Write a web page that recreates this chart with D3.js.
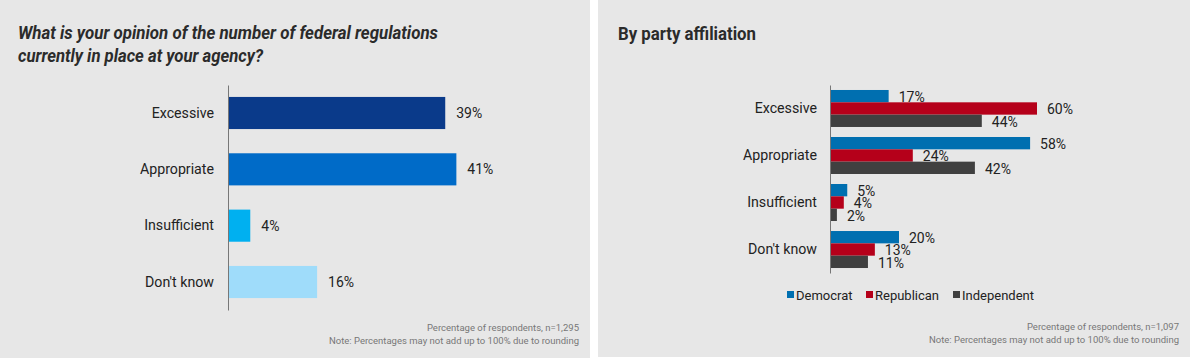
<!DOCTYPE html>
<html>
<head>
<meta charset="utf-8">
<script src="https://cdn.jsdelivr.net/npm/d3@7"></script>
<style>
  html, body { margin: 0; padding: 0; background: #ffffff; }
  svg { display: block; font-family: Roboto, "Noto Sans", sans-serif; }
</style>
</head>
<body>
<svg id="chart" width="1190" height="359"></svg>
<script>
// ---- Data ----
const categories = ["Excessive", "Appropriate", "Insufficient", "Don't know"];
const overallValues = [39, 41, 4, 16];
const overallColors = ["#0a3a8a", "#006bc8", "#00b0f0", "#9fdcfa"];

const parties = ["Democrat", "Republican", "Independent"];
const democratValues = [17, 58, 5, 20];
const republicanValues = [60, 24, 4, 13];
const independentValues = [44, 42, 2, 11];
const partyColors = ["#006fb0", "#b5001a", "#404040"];

const leftTitle = ["What is your opinion of the number of federal regulations", "currently in place at your agency?"];
const rightTitle = "By party affiliation";
const leftNotes = ["Percentage of respondents, n=1,295", "Note: Percentages may not add up to 100% due to rounding"];
const rightNotes = ["Percentage of respondents, n=1,097", "Note: Percentages may not add up to 100% due to rounding"];

const svg = d3.select("#chart");
const bg = "#e7e7e7";
const textColor = "#222222";

// Panels
svg.append("rect").attr("x", 0).attr("y", 0).attr("width", 590).attr("height", 358).attr("fill", bg);
svg.append("rect").attr("x", 598).attr("y", 0).attr("width", 592).attr("height", 357).attr("fill", bg);

// ---- Left panel ----
const L = svg.append("g");
L.append("text").attr("x", 18).attr("y", 39)
  .attr("font-size", 18.5).attr("font-weight", 700).attr("font-style", "italic")
  .attr("fill", "#2b2b2b").attr("textLength", 420).attr("lengthAdjust", "spacingAndGlyphs")
  .text(leftTitle[0]);
L.append("text").attr("x", 18).attr("y", 62)
  .attr("font-size", 18.5).attr("font-weight", 700).attr("font-style", "italic")
  .attr("fill", "#2b2b2b").attr("textLength", 245).attr("lengthAdjust", "spacingAndGlyphs")
  .text(leftTitle[1]);

const yL = d3.scaleBand().domain(categories).range([85, 310]).paddingInner(0.43).paddingOuter(0.212);
const xL = d3.scaleLinear().domain([0, 100]).range([228, 228 + 557]);

L.selectAll("rect.bar").data(categories).join("rect")
  .attr("class", "bar")
  .attr("x", xL(0))
  .attr("y", d => yL(d))
  .attr("width", (d, i) => xL(overallValues[i]) - xL(0))
  .attr("height", yL.bandwidth())
  .attr("fill", (d, i) => overallColors[i]);

L.selectAll("text.val").data(categories).join("text")
  .attr("class", "val")
  .attr("x", (d, i) => xL(overallValues[i]) + 11)
  .attr("y", d => yL(d) + yL.bandwidth() / 2)
  .attr("dy", "0.35em")
  .attr("font-size", 14).attr("fill", textColor)
  .text((d, i) => overallValues[i] + "%");

const axL = L.append("g").attr("transform", `translate(${xL(0)},0)`)
  .call(d3.axisLeft(yL).tickSize(0).tickPadding(14));
axL.select(".domain").attr("stroke", "#777").attr("stroke-width", 1);
axL.selectAll("text").attr("font-size", 14.2).attr("fill", textColor).attr("font-family", "Roboto, sans-serif");

L.selectAll("text.note").data(leftNotes).join("text")
  .attr("class", "note")
  .attr("x", 579).attr("y", (d, i) => 331 + i * 13)
  .attr("text-anchor", "end").attr("font-size", 9.5).attr("fill", "#777")
  .text(d => d);

// ---- Right panel ----
const R = svg.append("g");
R.append("text").attr("x", 618).attr("y", 40)
  .attr("font-size", 18.5).attr("font-weight", 700)
  .attr("fill", "#2b2b2b").attr("textLength", 138).attr("lengthAdjust", "spacingAndGlyphs")
  .text(rightTitle);

const seriesValues = [democratValues, republicanValues, independentValues];
const yR = d3.scaleBand().domain(categories).range([85, 273]).paddingInner(0.213).paddingOuter(0.106);
const yRi = d3.scaleBand().domain(parties).range([0, yR.bandwidth()]).padding(0);
const xR = d3.scaleLinear().domain([0, 100]).range([830, 830 + 345]);

const groups = R.selectAll("g.grp").data(categories).join("g")
  .attr("class", "grp")
  .attr("transform", d => `translate(0,${yR(d)})`);

groups.each(function(cat, ci) {
  const g = d3.select(this);
  const rows = parties.map((p, pi) => ({ party: p, value: seriesValues[pi][ci], color: partyColors[pi] }));
  g.selectAll("rect").data(rows).join("rect")
    .attr("x", xR(0))
    .attr("y", d => yRi(d.party))
    .attr("width", d => xR(d.value) - xR(0))
    .attr("height", yRi.bandwidth())
    .attr("fill", d => d.color);
  g.selectAll("text").data(rows).join("text")
    .attr("x", d => xR(d.value) + 10)
    .attr("y", d => yRi(d.party) + yRi.bandwidth() / 2 + 1)
    .attr("dy", "0.35em")
    .attr("font-size", 14).attr("fill", textColor)
    .text(d => d.value + "%");
});

const axR = R.append("g").attr("transform", `translate(${xR(0)},0)`)
  .call(d3.axisLeft(yR).tickSize(0).tickPadding(13));
axR.select(".domain").attr("stroke", "#777").attr("stroke-width", 1);
axR.selectAll("text").attr("font-size", 14.2).attr("fill", textColor).attr("font-family", "Roboto, sans-serif");

// Legend
const legendX = [787, 866, 953];
const leg = R.selectAll("g.leg").data(parties).join("g")
  .attr("class", "leg")
  .attr("transform", (d, i) => `translate(${legendX[i]},295)`);
leg.append("rect").attr("x", 0).attr("y", -4).attr("width", 7).attr("height", 7)
  .attr("fill", (d, i) => partyColors[i]);
leg.append("text").attr("x", 9).attr("y", 0).attr("dy", "0.35em")
  .attr("font-size", 13).attr("fill", textColor).text(d => d);

R.selectAll("text.note").data(rightNotes).join("text")
  .attr("class", "note")
  .attr("x", 1179).attr("y", (d, i) => 330 + i * 13)
  .attr("text-anchor", "end").attr("font-size", 9.5).attr("fill", "#777")
  .text(d => d);
</script>
</body>
</html>
